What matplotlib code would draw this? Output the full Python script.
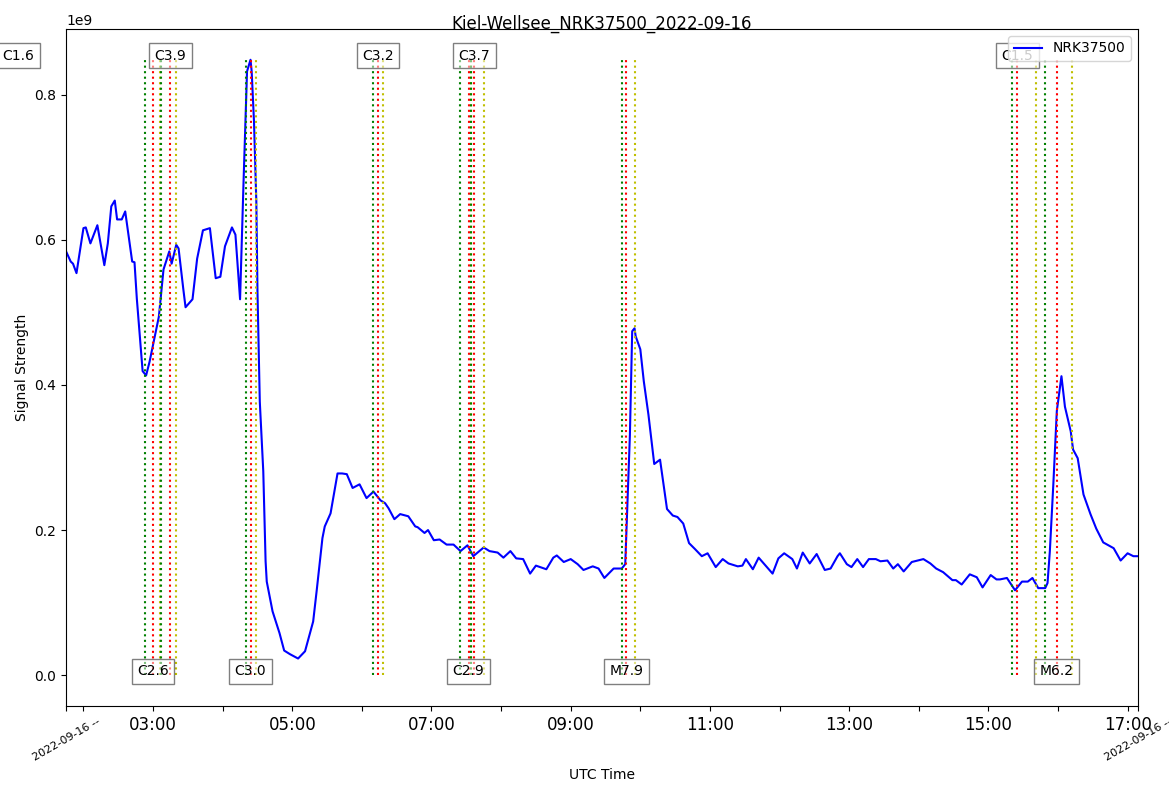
import matplotlib
matplotlib.use("Agg")
import matplotlib.pyplot as plt
import matplotlib.dates as mdates
import pandas as pd

day = "2022-09-16"
station = "NRK37500"
site = "Kiel-Wellsee"

# VLF amplitude (units of 1e9)
times = ["01:45", "01:49", "01:51", "01:54", "02:00", "02:02", "02:06", "02:12", "02:18", "02:21",
         "02:24", "02:27", "02:29", "02:33", "02:36", "02:42", "02:44", "02:46", "02:49", "02:51",
         "02:54", "02:57", "03:02", "03:05", "03:09", "03:14", "03:16", "03:20", "03:22", "03:26",
         "03:28", "03:34", "03:38", "03:43", "03:49", "03:54", "03:58", "04:02", "04:08", "04:11",
         "04:15", "04:18", "04:21", "04:24", "04:25", "04:27", "04:29", "04:30", "04:32", "04:35",
         "04:37", "04:38", "04:43", "04:49", "04:53", "04:58", "05:05", "05:11", "05:18", "05:21",
         "05:26", "05:28", "05:33", "05:39", "05:43", "05:47", "05:52", "05:58", "06:04", "06:10",
         "06:16", "06:20", "06:23", "06:28", "06:33", "06:40", "06:46", "06:48", "06:54", "06:57",
         "07:02", "07:07", "07:13", "07:19", "07:25", "07:31", "07:36", "07:45", "07:50", "07:57",
         "08:02", "08:08", "08:13", "08:19", "08:25", "08:30", "08:39", "08:45", "08:48", "08:54",
         "09:00", "09:06", "09:11", "09:19", "09:24", "09:29", "09:37", "09:44", "09:47", "09:50",
         "09:51", "09:53", "09:55", "09:56", "10:00", "10:03", "10:07", "10:09", "10:12", "10:17",
         "10:23", "10:28", "10:32", "10:37", "10:42", "10:47", "10:53", "10:58", "11:05", "11:11",
         "11:16", "11:24", "11:28", "11:31", "11:37", "11:42", "11:48", "11:54", "11:59", "12:04",
         "12:11", "12:15", "12:20", "12:26", "12:32", "12:39", "12:44", "12:50", "12:52", "12:58",
         "13:02", "13:07", "13:12", "13:17", "13:23", "13:27", "13:33", "13:38", "13:42", "13:47",
         "13:54", "14:04", "14:10", "14:15", "14:21", "14:29", "14:32", "14:37", "14:44", "14:50",
         "14:55", "15:02", "15:07", "15:10", "15:16", "15:23", "15:29", "15:34", "15:38", "15:43",
         "15:49", "15:51", "15:53", "15:56", "15:59", "16:03", "16:06", "16:11", "16:13", "16:17",
         "16:22", "16:28", "16:33", "16:39", "16:48", "16:54", "17:00", "17:05", "17:09"]
signal = [0.584, 0.570, 0.567, 0.554, 0.616, 0.617, 0.595, 0.620, 0.565, 0.595,
          0.646, 0.654, 0.628, 0.628, 0.639, 0.570, 0.569, 0.519, 0.460, 0.419,
          0.413, 0.432, 0.471, 0.494, 0.559, 0.584, 0.567, 0.593, 0.588, 0.533,
          0.507, 0.518, 0.574, 0.613, 0.616, 0.547, 0.549, 0.591, 0.617, 0.607,
          0.518, 0.680, 0.832, 0.848, 0.832, 0.763, 0.653, 0.529, 0.377, 0.281,
          0.157, 0.129, 0.088, 0.058, 0.034, 0.029, 0.023, 0.033, 0.074, 0.116,
          0.189, 0.205, 0.223, 0.278, 0.278, 0.277, 0.258, 0.263, 0.244, 0.253,
          0.241, 0.237, 0.230, 0.215, 0.222, 0.219, 0.205, 0.204, 0.196, 0.200,
          0.186, 0.187, 0.180, 0.180, 0.171, 0.179, 0.164, 0.176, 0.171, 0.169,
          0.162, 0.171, 0.161, 0.160, 0.140, 0.151, 0.146, 0.162, 0.165, 0.156,
          0.160, 0.153, 0.145, 0.150, 0.147, 0.134, 0.147, 0.147, 0.153, 0.285,
          0.330, 0.474, 0.478, 0.467, 0.449, 0.405, 0.359, 0.332, 0.291, 0.297,
          0.229, 0.220, 0.218, 0.209, 0.182, 0.174, 0.164, 0.168, 0.149, 0.160,
          0.154, 0.150, 0.151, 0.160, 0.146, 0.162, 0.151, 0.140, 0.161, 0.168,
          0.160, 0.147, 0.169, 0.154, 0.167, 0.145, 0.147, 0.164, 0.168, 0.153,
          0.149, 0.160, 0.149, 0.160, 0.160, 0.157, 0.158, 0.147, 0.153, 0.143,
          0.156, 0.160, 0.154, 0.147, 0.142, 0.131, 0.131, 0.125, 0.139, 0.135,
          0.121, 0.138, 0.132, 0.132, 0.134, 0.117, 0.129, 0.129, 0.134, 0.120,
          0.120, 0.127, 0.171, 0.263, 0.364, 0.412, 0.370, 0.336, 0.311, 0.299,
          0.249, 0.222, 0.202, 0.183, 0.175, 0.158, 0.168, 0.164, 0.164]

# GOES flares of the day
flare_class = ["C1.6", "C2.6", "C3.9", "C3.0", "C3.2", "C2.9", "C3.7", "M7.9", "C1.5", "M6.2"]
flare_start = ["00:55", "02:53", "03:07", "04:20", "06:10", "07:25", "07:34", "09:44", "15:20", "15:49"]
flare_peak = ["01:04", "03:00", "03:15", "04:24", "06:14", "07:32", "07:37", "09:48", "15:25", "15:59"]
flare_end = ["01:20", "03:06", "03:20", "04:29", "06:18", "07:34", "07:45", "09:55", "15:41", "16:12"]


def to_num(hhmm):
    return mdates.date2num(pd.Timestamp(day + " " + hhmm))


t = [to_num(s) for s in times]
y = [v * 1e9 for v in signal]
top = max(y)

fig = plt.figure(figsize=(11.69, 7.92), dpi=100)
ax = fig.add_axes([0.0565, 0.1086, 0.917, 0.8548])

ax.plot(t, y, color="b", label=station)

for i in range(len(flare_class)):
    ax.vlines(to_num(flare_start[i]), 0, top, colors="g", linestyles=":")
    ax.vlines(to_num(flare_peak[i]), 0, top, colors="r", linestyles=":")
    ax.vlines(to_num(flare_end[i]), 0, top, colors="y", linestyles=":")
    ypos = top if i % 2 == 0 else 0
    ax.text(to_num(flare_peak[i]), ypos, flare_class[i], ha="center",
            fontsize=10, bbox=dict(facecolor="white", alpha=0.5))

ax.set_xlim(t[0], t[-1])
ax.ticklabel_format(axis="y", style="sci", scilimits=(9, 9))

hours = ["%02d:00" % h for h in range(2, 18)]
ticks = [t[0]] + [to_num(h) for h in hours] + [t[-1]]
labels = [day + " --"] + [h if int(h[:2]) % 2 else "" for h in hours] + [day + " --"]
ax.set_xticks(ticks)
ax.set_xticklabels(labels, fontsize=12)
for lab in (ax.get_xticklabels()[0], ax.get_xticklabels()[-1]):
    lab.set_fontsize(8)
    lab.set_rotation(30)

ax.set_xlabel("UTC Time")
ax.set_ylabel("Signal Strength")
ax.set_title(site + "_" + station + "_" + day, y=1.0, pad=0)
ax.legend(loc="upper right")

fig.savefig("out.png", dpi=100)
